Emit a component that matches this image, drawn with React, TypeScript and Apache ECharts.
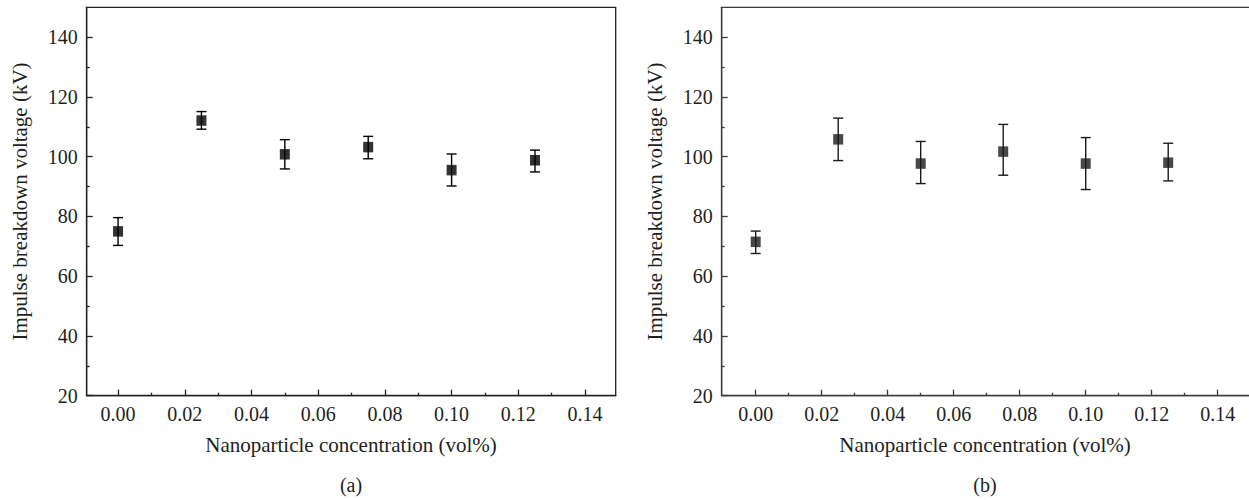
import React, { useEffect, useRef } from "react";
import * as echarts from "echarts";

const concentrations = [0, 0.025, 0.05, 0.075, 0.1, 0.125];

const meanA = [75.0, 112.1, 100.8, 103.2, 95.5, 98.8];
const upperA = [79.6, 115.1, 105.7, 106.8, 100.9, 102.2];
const lowerA = [70.3, 109.2, 95.9, 99.3, 90.2, 94.9];

const meanB = [71.5, 105.8, 97.7, 101.7, 97.7, 98.0];
const upperB = [75.1, 112.9, 105.1, 110.8, 106.4, 104.5];
const lowerB = [67.6, 98.7, 91.0, 93.8, 89.0, 91.9];

const xMajorTicks = [0, 0.02, 0.04, 0.06, 0.08, 0.1, 0.12, 0.14];
const xMinorTicks = [0.01, 0.03, 0.05, 0.07, 0.09, 0.11, 0.13];
const yMajorTicks = [20, 40, 60, 80, 100, 120, 140];
const yMinorTicks = [30, 50, 70, 90, 110, 130];

const xTitle = "Nanoparticle concentration (vol%)";
const yTitle = "Impulse breakdown voltage (kV)";
const captions = ["(a)", "(b)"];

const FONT = "'Liberation Serif', 'Times New Roman', serif";
const TEXT = "#231f20";

export default function App() {
  const ref = useRef<HTMLDivElement>(null);

  useEffect(() => {
    if (!ref.current) return;
    const chart = echarts.init(ref.current, undefined, { renderer: "svg" });

    const panels = [
      { left: 86.7, width: 529, xmin: -0.0094, xmax: 0.1492, line: "#222222", mean: meanA, up: upperA, lo: lowerA, mark: "#000000", titleCenter: 351 },
      { left: 721.7, width: 531, xmin: -0.0103, xmax: 0.1506, line: "#3c3c3c", mean: meanB, up: upperB, lo: lowerB, mark: "#1c1a1b", titleCenter: 985 },
    ];
    const top = 7.3;
    const height = 388.4;

    const grids: any[] = [];
    const xAxes: any[] = [];
    const yAxes: any[] = [];
    const series: any[] = [];
    const graphics: any[] = [];

    panels.forEach((p, i) => {
      grids.push({
        left: p.left,
        top,
        width: p.width,
        height,
        show: true,
        borderColor: p.line,
        borderWidth: 1.3,
        backgroundColor: "transparent",
        outerBoundsMode: "none",
        containLabel: false,
      });
      const axisLineStyle = { color: p.line, width: 1.3 };
      xAxes.push({
        type: "value",
        gridIndex: i,
        position: "bottom",
        min: p.xmin,
        max: p.xmax,
        axisLine: { show: true, onZero: false, lineStyle: axisLineStyle },
        axisTick: { show: true, inside: true, length: 6, lineStyle: axisLineStyle, customValues: xMajorTicks },
        axisLabel: {
          show: true,
          margin: 8,
          fontFamily: FONT,
          fontSize: 20,
          color: TEXT,
          customValues: xMajorTicks,
          formatter: (v: number) => v.toFixed(2),
        },
        splitLine: { show: false },
      });
      xAxes.push({
        type: "value",
        gridIndex: i,
        position: "bottom",
        min: p.xmin,
        max: p.xmax,
        axisLine: { show: false, onZero: false },
        axisTick: { show: true, inside: true, length: 3, lineStyle: axisLineStyle, customValues: xMinorTicks },
        axisLabel: { show: false },
        splitLine: { show: false },
      });
      yAxes.push({
        type: "value",
        gridIndex: i,
        position: "left",
        min: 20,
        max: 150,
        name: yTitle,
        nameLocation: "middle",
        nameGap: 56,
        nameRotate: 90,
        nameTextStyle: { fontFamily: FONT, fontSize: 21, color: TEXT },
        axisLine: { show: true, onZero: false, lineStyle: axisLineStyle },
        axisTick: { show: true, inside: true, length: 6, lineStyle: axisLineStyle, customValues: yMajorTicks },
        axisLabel: {
          show: true,
          margin: 9,
          fontFamily: FONT,
          fontSize: 20,
          color: TEXT,
          customValues: yMajorTicks,
        },
        splitLine: { show: false },
      });
      yAxes.push({
        type: "value",
        gridIndex: i,
        position: "left",
        min: 20,
        max: 150,
        axisLine: { show: false, onZero: false },
        axisTick: { show: true, inside: true, length: 3, lineStyle: axisLineStyle, customValues: yMinorTicks },
        axisLabel: { show: false },
        splitLine: { show: false },
      });

      graphics.push({
        type: "text",
        x: p.titleCenter,
        y: 445,
        style: { text: xTitle, fontFamily: FONT, fontSize: 21, fill: TEXT, align: "center", verticalAlign: "middle" },
      });
      graphics.push({
        type: "text",
        x: p.titleCenter,
        y: 485,
        style: { text: captions[i], fontFamily: FONT, fontSize: 20, fill: TEXT, align: "center", verticalAlign: "middle" },
      });

      const errData = concentrations.map((c, k) => [c, p.lo[k], p.up[k]]);
      const stroke = p.mark;
      series.push({
        type: "custom",
        xAxisIndex: i * 2,
        yAxisIndex: i * 2,
        data: errData,
        renderItem: (params: any, api: any) => {
          const x = api.value(0);
          const pHi = api.coord([x, api.value(2)]);
          const pLo = api.coord([x, api.value(1)]);
          const w = 5;
          const style = { stroke, lineWidth: 1.4, fill: "none" };
          return {
            type: "group",
            children: [
              { type: "line", shape: { x1: pHi[0], y1: pHi[1], x2: pLo[0], y2: pLo[1] }, style },
              { type: "line", shape: { x1: pHi[0] - w, y1: pHi[1], x2: pHi[0] + w, y2: pHi[1] }, style },
              { type: "line", shape: { x1: pLo[0] - w, y1: pLo[1], x2: pLo[0] + w, y2: pLo[1] }, style },
            ],
          };
        },
        z: 2,
      });
      series.push({
        type: "scatter",
        xAxisIndex: i * 2,
        yAxisIndex: i * 2,
        symbol: "rect",
        symbolSize: [10, 10.5],
        itemStyle: { color: p.mark },
        data: concentrations.map((c, k) => [c, p.mean[k]]),
        z: 3,
      });
    });

    chart.setOption({
      animation: false,
      backgroundColor: "#ffffff",
      grid: grids,
      xAxis: xAxes,
      yAxis: yAxes,
      series,
      graphic: graphics,
    });

    return () => chart.dispose();
  }, []);

  return (
    <div
      ref={ref}
      style={{ position: "fixed", left: 0, top: 0, width: 1249, height: 500, background: "#fff" }}
    />
  );
}
